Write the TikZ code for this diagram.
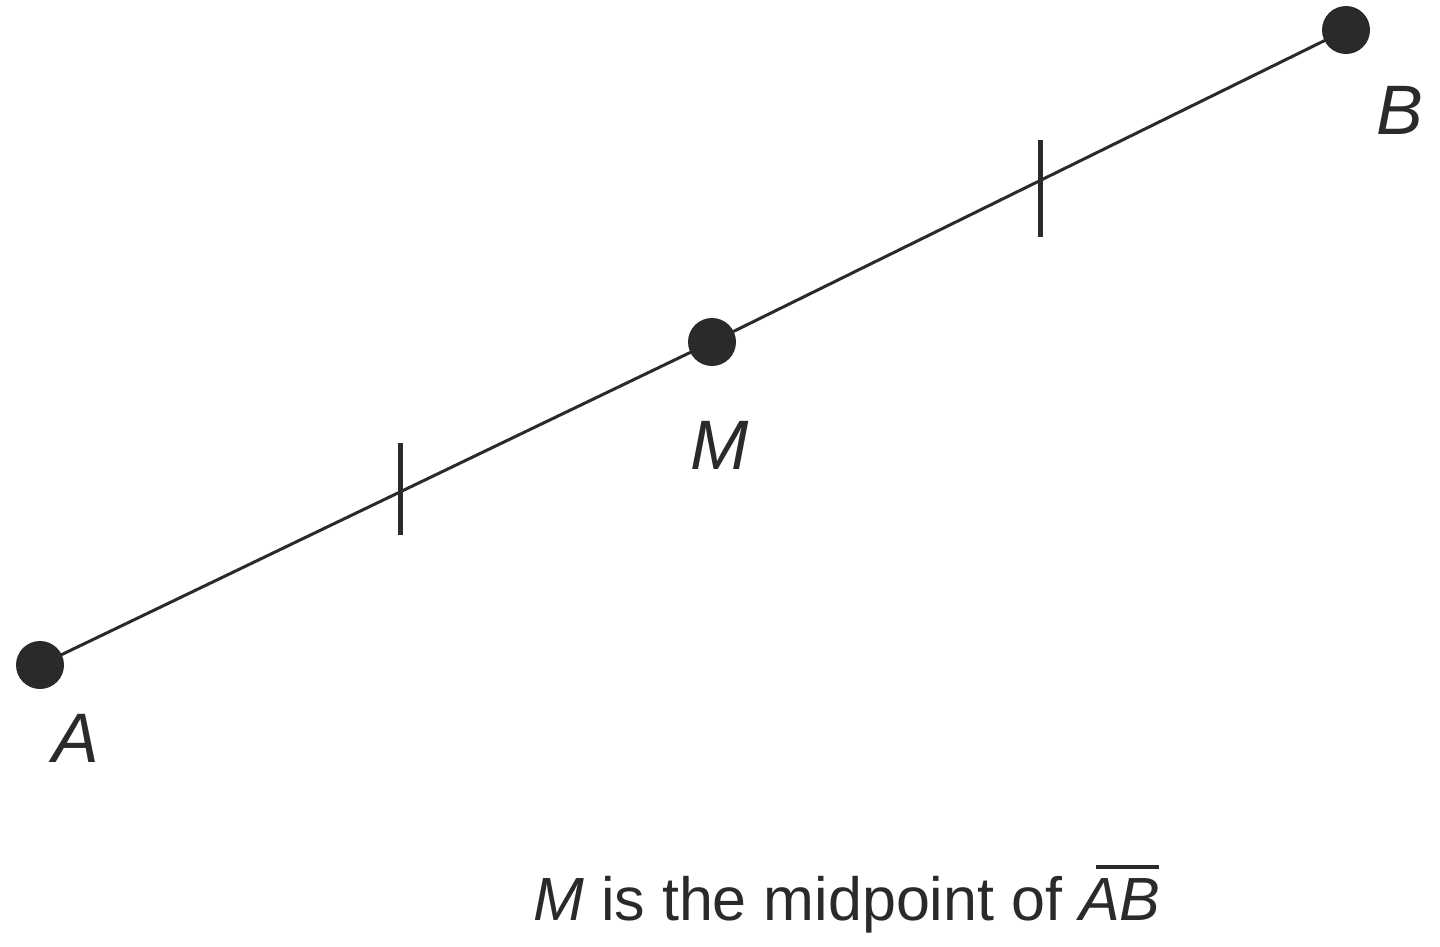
\documentclass[tikz,border=0pt]{standalone}
\usepackage{fontspec}
\setmainfont{Liberation Sans}
\definecolor{ink}{HTML}{2A2A2A}
\newcommand\segbar[1]{\leavevmode\setbox0\hbox{#1}\rlap{\kern0.28em\raisebox{0.84em}{\rule{\dimexpr\wd0-0.3em\relax}{0.07em}}}\box0}
\begin{document}
\begin{tikzpicture}[x=1pt,y=-1pt,
  pt/.style={circle,fill=ink,inner sep=0pt,minimum size=48pt},
  lbl/.style={text=ink,font=\fontsize{70}{80}\selectfont\itshape,inner sep=0pt},
  seg/.style={draw=ink,line width=3pt},
  tick/.style={draw=ink,line width=5pt}]
\fill[white] (0,0) rectangle (1440,946);
\useasboundingbox (0,0) rectangle (1440,946);
\node[pt] (A) at (40,665) {};
\node[pt] (M) at (712,342) {};
\node[pt] (B) at (1346,30) {};
\draw[seg] (A.center) -- (M.center) -- (B.center);
\coordinate (t1a) at (400,443);
\coordinate (t1b) at (400,535);
\coordinate (t2a) at (1040,140);
\coordinate (t2b) at (1040,237);
\draw[tick] (t1a) -- (t1b);
\draw[tick] (t2a) -- (t2b);
\node[lbl] (lA) at (76,738) {A};
\node[lbl] (lM) at (720,445) {M};
\node[lbl] (lB) at (1400,110) {B};
\node[text=ink,font=\fontsize{61}{70}\selectfont,inner sep=0pt,anchor=base] (cap) at (847,920) {\textit{M} is the midpoint of \segbar{\textit{AB}}};
\end{tikzpicture}
\end{document}
